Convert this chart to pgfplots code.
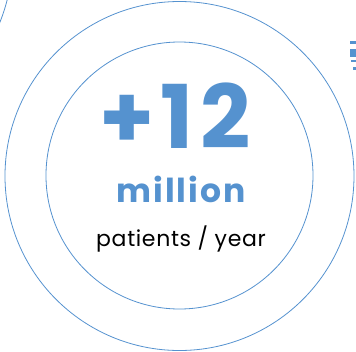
\documentclass[border=0pt]{standalone}
\usepackage{pgfplots}
\pgfplotsset{compat=1.18}
\usepackage{fontspec}
\setmainfont{Poppins}
\definecolor{cblue}{HTML}{5592CF}
\begin{document}
\begin{tikzpicture}
\clip (0,0) rectangle (356pt,351pt);
\begin{axis}[
  width=356pt, height=351pt, scale only axis,
  xmin=0, xmax=356, ymin=0, ymax=351, y dir=reverse,
  hide axis, clip=false,
]
\addplot[draw=none, forget plot] coordinates {(0,0) (356,351)};
\draw[cblue, line width=0.8pt] (axis cs:179.5,176) circle[radius=174.5];
\draw[cblue, line width=0.8pt] (axis cs:179.5,175.5) circle[radius=133.5];
\draw[cblue, line width=0.8pt] (axis cs:-162,-43) circle[radius=174.5];
% icon fragment at right edge
\fill[cblue] (axis cs:350,41) rectangle (axis cs:356,44);
\fill[cblue] (axis cs:350,49) rectangle (axis cs:356,57);
\fill[cblue] (axis cs:351,60) rectangle (axis cs:356,62);
\fill[cblue] (axis cs:353,67) rectangle (axis cs:356,70);
\node[anchor=base, text=cblue, font=\fontsize{88}{88}\selectfont\bfseries\addfontfeature{LetterSpace=7}, inner sep=0pt] at (axis cs:175,148) {+12};
\node[anchor=base, text=cblue, font=\fontsize{33}{33}\selectfont\bfseries\addfontfeature{LetterSpace=6}, inner sep=0pt] at (axis cs:181,202) {million};
\node[anchor=base, text=black, font=\fontsize{22}{22}\selectfont\addfontfeature{LetterSpace=3}, inner sep=0pt] at (axis cs:181,246) {patients / year};
\end{axis}
\end{tikzpicture}
\end{document}
